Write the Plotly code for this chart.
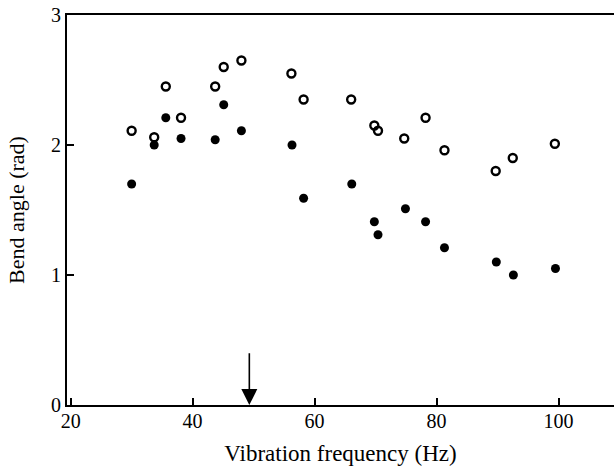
import plotly.graph_objects as go

# Vibration frequency (Hz) and bend angle (rad)
freq_open = [30.0, 33.7, 35.6, 38.1, 43.7, 45.1, 48.0, 56.2, 58.2, 66.0, 69.8, 70.4, 74.7, 78.2, 81.3, 89.7, 92.5, 99.4]
angle_open = [2.11, 2.06, 2.45, 2.21, 2.45, 2.60, 2.65, 2.55, 2.35, 2.35, 2.15, 2.11, 2.05, 2.21, 1.96, 1.80, 1.90, 2.01]

freq_filled = [30.0, 33.7, 35.6, 38.1, 43.7, 45.1, 48.0, 56.3, 58.2, 66.1, 69.8, 70.4, 74.9, 78.2, 81.3, 89.8, 92.6, 99.5]
angle_filled = [1.70, 2.00, 2.21, 2.05, 2.04, 2.31, 2.11, 2.00, 1.59, 1.70, 1.41, 1.31, 1.51, 1.41, 1.21, 1.10, 1.00, 1.05]

x_ticks = [20, 40, 60, 80, 100]
y_ticks = [0, 1, 2, 3]
arrow_freq = 49.3
arrow_top = 0.41

serif = "Liberation Serif, Times New Roman, serif"

fig = go.Figure()
fig.add_trace(go.Scatter(
    x=freq_open, y=angle_open, mode="markers",
    marker=dict(symbol="circle-open", size=8, color="black", line=dict(width=2.4, color="black")),
    showlegend=False, hoverinfo="skip"))
fig.add_trace(go.Scatter(
    x=freq_filled, y=angle_filled, mode="markers",
    marker=dict(symbol="circle", size=9, color="black"),
    showlegend=False, hoverinfo="skip"))

fig.add_annotation(
    x=arrow_freq, y=0, ax=arrow_freq, ay=arrow_top,
    xref="x", yref="y", axref="x", ayref="y",
    showarrow=True, arrowhead=2, arrowsize=2.0, arrowwidth=1.6,
    arrowcolor="black", text="")

fig.update_layout(
    width=614, height=466,
    margin=dict(l=67, r=0, t=15, b=61),
    paper_bgcolor="white", plot_bgcolor="white",
    font=dict(family=serif, color="black", size=20),
    xaxis=dict(
        range=[19.4, 109.1], tickvals=x_ticks, ticktext=[str(v) for v in x_ticks],
        ticks="inside", ticklen=7, tickwidth=1.5, tickcolor="black",
        showline=True, linewidth=2, linecolor="black", mirror=True,
        showgrid=False, zeroline=False, automargin=False,
        tickfont=dict(size=20), ticklabelstandoff=-3,
        title=dict(text="Vibration frequency (Hz)", font=dict(size=23), standoff=14),
    ),
    yaxis=dict(
        range=[0, 3], tickvals=y_ticks, ticktext=[str(v) for v in y_ticks],
        ticks="inside", ticklen=7, tickwidth=1.5, tickcolor="black",
        showline=True, linewidth=2, linecolor="black", mirror=False,
        showgrid=False, zeroline=False, automargin=False,
        tickfont=dict(size=20),
        title=dict(text="Bend angle (rad)", font=dict(size=22), standoff=20),
    ),
)

fig.write_html(
    "out.html",
    config={"displayModeBar": False},
    post_script="document.body.style.margin='0';document.body.style.overflow='hidden';",
)
